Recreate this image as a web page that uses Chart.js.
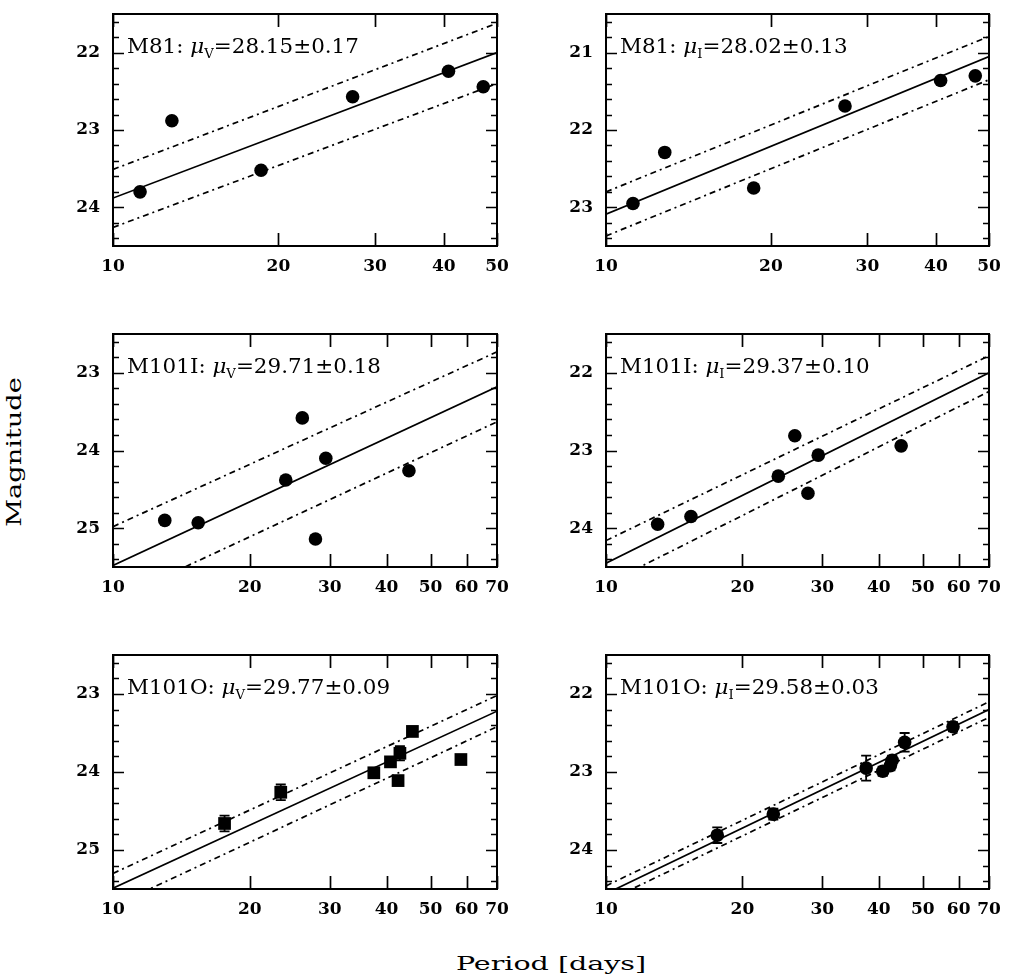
<!DOCTYPE html>
<html>
<head>
<meta charset="utf-8">
<script src="https://cdn.jsdelivr.net/npm/chart.js@4.4.1/dist/chart.umd.min.js"></script>
<style>
  html, body { margin: 0; padding: 0; background: #fff; }
  body { width: 1011px; height: 978px; position: relative; overflow: hidden; }
  .pan { position: absolute; }
  .ttl { position: absolute; font-family: "DejaVu Serif", serif; color: #000; white-space: nowrap; line-height: 1; }
  #ylab { left: 14px; top: 452px; font-size: 20px; transform: translate(-50%, -50%) rotate(-90deg) scaleX(1.36); }
  #xlab { left: 551px; top: 963px; font-size: 19px; transform: translate(-50%, -50%) scaleX(1.5); }
</style>
</head>
<body>
<div class="ttl" id="ylab">Magnitude</div>
<div class="ttl" id="xlab">Period [days]</div>

<script>
// ---------------- DATA ----------------
const galaxyNames = ["M81", "M81", "M101I", "M101I", "M101O", "M101O"];
const bandNames   = ["V", "I", "V", "I", "V", "I"];
const muValues    = ["28.15", "28.02", "29.71", "29.37", "29.77", "29.58"];
const muErrors    = ["0.17", "0.13", "0.18", "0.10", "0.09", "0.03"];

const xTicksShort = [10, 20, 30, 40, 50];
const xTicksLong  = [10, 20, 30, 40, 50, 60, 70];
const xRangeM81   = [10, 50];
const xRangeM101  = [10, 70];

// M81
const periodsM81 = [11.2, 12.8, 18.6, 27.3, 40.8, 47.2];
const magM81V    = [23.80, 22.88, 23.52, 22.57, 22.24, 22.44];
const magM81I    = [22.95, 22.29, 22.75, 21.69, 21.36, 21.30];
const fitM81V    = [23.88, 22.00];
const upperM81V  = [23.51, 21.62];
const lowerM81V  = [24.26, 22.40];
const fitM81I    = [23.09, 21.05];
const upperM81I  = [22.80, 20.79];
const lowerM81I  = [23.37, 21.35];
const yRangeM81V = [21.5, 24.5];
const yRangeM81I = [20.5, 23.5];
const yTicksM81V = [22, 23, 24];
const yTicksM81I = [21, 22, 23];

// M101 inner field
const periodsM101I = [13.0, 15.4, 24.0, 26.1, 27.9, 29.4, 44.8];
const magM101IV    = [24.90, 24.93, 24.38, 23.58, 25.14, 24.10, 24.26];
const magM101II    = [23.95, 23.85, 23.33, 22.81, 23.55, 23.06, 22.94];
const fitM101IV    = [25.48, 23.18];
const upperM101IV  = [24.98, 22.73];
const lowerM101IV  = [25.93, 23.63];
const fitM101II    = [24.45, 22.00];
const upperM101II  = [24.16, 21.78];
const lowerM101II  = [24.72, 22.24];
const yRangeM101IV = [22.5, 25.5];
const yRangeM101II = [21.5, 24.5];
const yTicksM101IV = [23, 24, 25];
const yTicksM101II = [22, 23, 24];

// M101 outer field
const periodsM101O = [17.6, 23.4, 37.5, 40.8, 42.4, 42.8, 45.6, 58.3];
const magM101OV    = [24.66, 24.26, 24.01, 23.87, 24.11, 23.76, 23.48, 23.84];
const errM101OV    = [0.10, 0.10, 0.06, 0.06, 0.06, 0.09, 0.06, 0.05];
const magM101OI    = [23.81, 23.54, 22.95, 22.99, 22.92, 22.85, 22.62, 22.42];
const errM101OI    = [0.10, 0.07, 0.16, 0.06, 0.06, 0.06, 0.12, 0.06];
const fitM101OV    = [25.49, 23.22];
const upperM101OV  = [25.30, 23.02];
const lowerM101OV  = [25.72, 23.42];
const fitM101OI    = [24.56, 22.20];
const upperM101OI  = [24.46, 22.10];
const lowerM101OI  = [24.66, 22.30];
const yRangeM101OV = [22.5, 25.5];
const yRangeM101OI = [21.5, 24.5];
const yTicksM101OV = [23, 24, 25];
const yTicksM101OI = [22, 23, 24];

// ---------------- LAYOUT ----------------
const colLeft  = [113, 606];
const colWidth = [384, 383];
const rowTop   = [14, 334, 655];
const rowHeight = [232, 233, 234];
const YW = 60, PT = 12, PR = 16, XH = 40;

const panels = [
  { i: 0, col: 0, row: 0, P: periodsM81, M: magM81V, E: null, fit: fitM81V, up: upperM81V, lo: lowerM81V, xr: xRangeM81, yr: yRangeM81V, xt: xTicksShort, yt: yTicksM81V, marker: 'circle' },
  { i: 1, col: 1, row: 0, P: periodsM81, M: magM81I, E: null, fit: fitM81I, up: upperM81I, lo: lowerM81I, xr: xRangeM81, yr: yRangeM81I, xt: xTicksShort, yt: yTicksM81I, marker: 'circle' },
  { i: 2, col: 0, row: 1, P: periodsM101I, M: magM101IV, E: null, fit: fitM101IV, up: upperM101IV, lo: lowerM101IV, xr: xRangeM101, yr: yRangeM101IV, xt: xTicksLong, yt: yTicksM101IV, marker: 'circle' },
  { i: 3, col: 1, row: 1, P: periodsM101I, M: magM101II, E: null, fit: fitM101II, up: upperM101II, lo: lowerM101II, xr: xRangeM101, yr: yRangeM101II, xt: xTicksLong, yt: yTicksM101II, marker: 'circle' },
  { i: 4, col: 0, row: 2, P: periodsM101O, M: magM101OV, E: errM101OV, fit: fitM101OV, up: upperM101OV, lo: lowerM101OV, xr: xRangeM101, yr: yRangeM101OV, xt: xTicksLong, yt: yTicksM101OV, marker: 'rect' },
  { i: 5, col: 1, row: 2, P: periodsM101O, M: magM101OI, E: errM101OI, fit: fitM101OI, up: upperM101OI, lo: lowerM101OI, xr: xRangeM101, yr: yRangeM101OI, xt: xTicksLong, yt: yTicksM101OI, marker: 'circle' }
];

const tickFont = { family: "DejaVu Serif", size: 17, weight: 'bold' };

const panelPlugin = {
  id: 'panelDecor',
  afterDatasetsDraw(chart) {
    const cfg = chart.options.plugins.panelDecor;
    const { ctx, chartArea: a } = chart;
    const x = chart.scales.x, y = chart.scales.y;
    ctx.save();
    ctx.strokeStyle = '#000';
    ctx.fillStyle = '#000';

    // error bars
    if (cfg.E) {
      ctx.lineWidth = 1.8;
      ctx.beginPath();
      cfg.P.forEach((p, k) => {
        const px = x.getPixelForValue(p);
        const y1 = y.getPixelForValue(cfg.M[k] - cfg.E[k]);
        const y2 = y.getPixelForValue(cfg.M[k] + cfg.E[k]);
        ctx.moveTo(px, y1); ctx.lineTo(px, y2);
        ctx.moveTo(px - 5, y1); ctx.lineTo(px + 5, y1);
        ctx.moveTo(px - 5, y2); ctx.lineTo(px + 5, y2);
      });
      ctx.stroke();
    }

    // ticks
    ctx.lineWidth = 1.7;
    ctx.beginPath();
    cfg.xt.forEach(v => {
      const px = Math.round(x.getPixelForValue(v)) + 0.5;
      ctx.moveTo(px, a.bottom); ctx.lineTo(px, a.bottom - 13);
      ctx.moveTo(px, a.top); ctx.lineTo(px, a.top + 13);
    });
    const kMin = Math.ceil(cfg.yr[0] * 5 - 1e-6), kMax = Math.floor(cfg.yr[1] * 5 + 1e-6);
    for (let k = kMin; k <= kMax; k++) {
      const v = k / 5;
      const py = Math.round(y.getPixelForValue(v)) + 0.5;
      const len = (k % 5 === 0) ? 11 : 6;
      ctx.moveTo(a.left, py); ctx.lineTo(a.left + len, py);
      ctx.moveTo(a.right, py); ctx.lineTo(a.right - len, py);
    }
    ctx.stroke();

    // frame
    ctx.lineWidth = 2;
    ctx.strokeRect(a.left, a.top, a.right - a.left, a.bottom - a.top);

    // annotation
    const base = y.getPixelForValue(cfg.yt[0]);
    ctx.translate(a.left + 14, base);
    ctx.scale(1.1, 1);
    ctx.textBaseline = 'alphabetic';
    ctx.textAlign = 'left';
    let cx = 0;
    ctx.font = '19.5px "DejaVu Serif"';
    const s1 = cfg.gal + ': ';
    ctx.fillText(s1, cx, 0); cx += ctx.measureText(s1).width;
    ctx.font = 'italic 19.5px "DejaVu Serif"';
    ctx.fillText('\u03BC', cx, 0); cx += ctx.measureText('\u03BC').width;
    ctx.font = '12px "DejaVu Serif"';
    ctx.fillText(cfg.band, cx, 5); cx += ctx.measureText(cfg.band).width;
    ctx.font = '19.5px "DejaVu Serif"';
    ctx.fillText('=' + cfg.mu + '\u00B1' + cfg.err, cx, 0);
    ctx.restore();
  }
};

panels.forEach(p => {
  const w = YW + colWidth[p.col] + PR;
  const h = PT + rowHeight[p.row] + XH;
  const div = document.createElement('div');
  div.className = 'pan';
  div.style.left = (colLeft[p.col] - YW) + 'px';
  div.style.top = (rowTop[p.row] - PT) + 'px';
  div.style.width = w + 'px';
  div.style.height = h + 'px';
  const cv = document.createElement('canvas');
  cv.width = w; cv.height = h;
  cv.style.width = w + 'px'; cv.style.height = h + 'px';
  div.appendChild(cv);
  document.body.appendChild(div);

  const pts = p.P.map((v, k) => ({ x: v, y: p.M[k] }));
  const seg = arr => [{ x: p.xr[0], y: arr[0] }, { x: p.xr[1], y: arr[1] }];
  const lineDs = (arr, dash, lw) => ({
    data: seg(arr), showLine: true, borderColor: '#000', borderWidth: lw,
    borderDash: dash, pointRadius: 0, fill: false
  });

  new Chart(cv, {
    type: 'scatter',
    data: {
      datasets: [
        { data: pts, pointStyle: p.marker, pointRadius: p.marker === 'rect' ? 9 : 6.8,
          backgroundColor: '#000', borderColor: '#000', borderWidth: 0 },
        lineDs(p.fit, [], 1.7),
        lineDs(p.up, [6, 4, 2, 4], 1.7),
        lineDs(p.lo, [6, 4, 2, 4], 1.7)
      ]
    },
    options: {
      responsive: false,
      animation: false,
      devicePixelRatio: 1,
      layout: { padding: { top: PT, right: PR, left: 0, bottom: 0 } },
      plugins: {
        legend: { display: false },
        tooltip: { enabled: false },
        panelDecor: { P: p.P, M: p.M, E: p.E, xt: p.xt, yt: p.yt, yr: p.yr,
          gal: galaxyNames[p.i], band: bandNames[p.i], mu: muValues[p.i], err: muErrors[p.i] }
      },
      scales: {
        x: {
          type: 'logarithmic', position: 'bottom', min: p.xr[0], max: p.xr[1],
          grid: { display: false, drawTicks: false }, border: { display: false },
          afterBuildTicks: s => { s.ticks = p.xt.map(v => ({ value: v })); },
          afterFit: s => { s.height = XH; s.paddingLeft = 0; s.paddingRight = 0; s.paddingTop = 0; s.paddingBottom = 0; },
          ticks: { autoSkip: false, maxRotation: 0, padding: 10, color: '#000', font: tickFont,
            callback: v => String(v) }
        },
        y: {
          type: 'linear', position: 'left', reverse: true, min: p.yr[0], max: p.yr[1],
          grid: { display: false, drawTicks: false }, border: { display: false },
          afterBuildTicks: s => { s.ticks = p.yt.map(v => ({ value: v })); },
          afterFit: s => { s.width = YW; s.paddingTop = 0; s.paddingBottom = 0; s.paddingLeft = 0; s.paddingRight = 0; },
          ticks: { autoSkip: false, padding: 13, color: '#000', font: tickFont,
            callback: v => String(v) }
        }
      }
    },
    plugins: [panelPlugin]
  });
});
</script>
</body>
</html>
